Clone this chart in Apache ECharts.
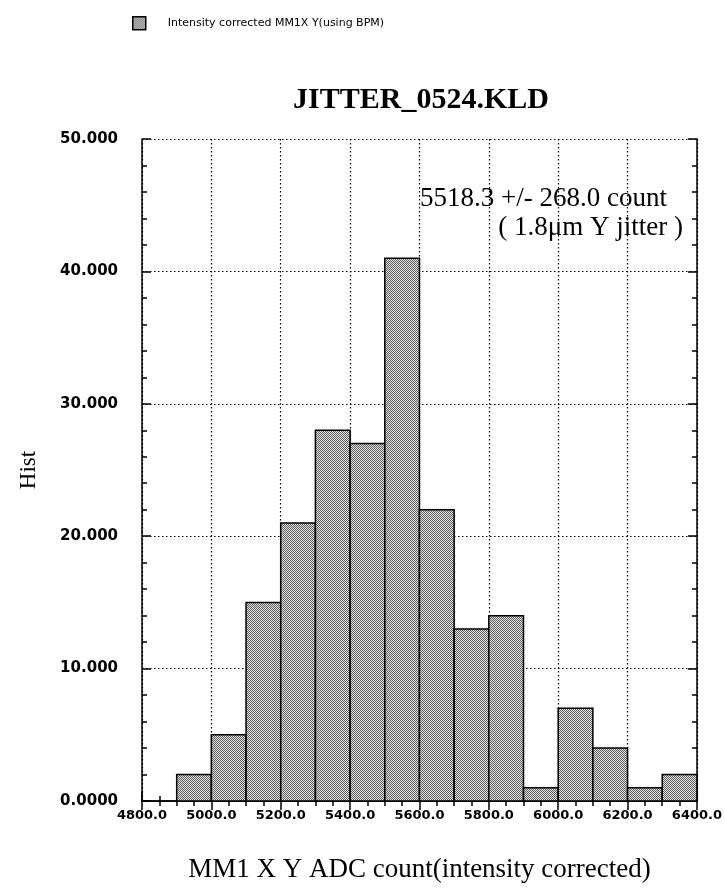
<!DOCTYPE html>
<html>
<head>
<meta charset="utf-8">
<script src="https://cdn.jsdelivr.net/npm/echarts@6/dist/echarts.min.js"></script>
<style>html,body{margin:0;padding:0;background:#fff;}#c{width:725px;height:895px;}</style>
</head>
<body>
<div id="c"></div>
<script>
// ---- data ----
const binStarts = [4900, 5000, 5100, 5200, 5300, 5400, 5500, 5600, 5700, 5800, 5900, 6000, 6100, 6200, 6300];
const binWidth = 100;
const counts = [2, 5, 15, 21, 28, 27, 41, 22, 13, 14, 1, 7, 4, 1, 2];
const xTicks = [4800, 5000, 5200, 5400, 5600, 5800, 6000, 6200, 6400];
const yTicks = [0, 10, 20, 30, 40, 50];
const seriesName = 'Intensity corrected MM1X Y(using BPM)';
const titleText = 'JITTER_0524.KLD';
const annotLines = ['5518.3 +/- 268.0 count', '( 1.8\u03bcm Y jitter )'];
const xName = 'MM1 X Y ADC count(intensity corrected)';
const yName = 'Hist';

// checkered fill pattern
const pc = document.createElement('canvas');
pc.width = 2; pc.height = 2;
const px = pc.getContext('2d');
px.fillStyle = '#e0e0e0'; px.fillRect(0, 0, 2, 2);
px.fillStyle = '#606060'; px.fillRect(0, 0, 1, 1); px.fillRect(1, 1, 1, 1);
const pattern = { image: pc, repeat: 'repeat' };

const histData = binStarts.map((s, i) => [s, s + binWidth, counts[i]]);

const chart = echarts.init(document.getElementById('c'), null, { renderer: 'canvas' });

const commonX = {
  type: 'value', min: xTicks[0], max: xTicks[xTicks.length - 1], interval: 200,
  axisLine: { show: true, lineStyle: { color: '#000', width: 1.5 } },
  axisTick: { show: true, inside: true, length: 9, lineStyle: { color: '#000', width: 1.5 } },
  minorTick: { show: true, splitNumber: 4, length: 5, lineStyle: { color: '#000', width: 1.5 } },
};
const commonY = {
  type: 'value', min: yTicks[0], max: yTicks[yTicks.length - 1], interval: 10,
  axisLine: { show: true, lineStyle: { color: '#000', width: 1.5 } },
  axisTick: { show: true, inside: true, length: 9, lineStyle: { color: '#000', width: 1.5 } },
  minorTick: { show: true, splitNumber: 5, length: 5, lineStyle: { color: '#000', width: 1.5 } },
};

chart.setOption({
  animation: false,
  backgroundColor: '#fff',
  title: {
    text: titleText, left: 416, top: 80, textAlign: 'center',
    textStyle: { fontFamily: 'Liberation Serif', fontWeight: 'bold', fontSize: 30, color: '#000' }
  },
  legend: {
    left: 127, top: 11, itemWidth: 13, itemHeight: 13, icon: 'rect',
    data: [{ name: seriesName, itemStyle: { color: pattern, borderColor: '#000', borderWidth: 1.5 } }],
    textStyle: { fontFamily: 'DejaVu Sans', fontSize: 11, color: '#000', padding: [0, 0, 0, 17] }
  },
  grid: { left: 142, right: 26, top: 139, bottom: 94 },
  xAxis: [
    Object.assign({}, commonX, {
      position: 'bottom',
      name: xName, nameLocation: 'middle', nameGap: 55,
      nameTextStyle: { fontFamily: 'Liberation Serif', fontSize: 27, color: '#000' },
      axisLabel: { margin: 8, color: '#000', fontFamily: 'DejaVu Sans', fontWeight: 'bold', fontSize: 13,
        formatter: v => v.toFixed(1) },
      splitLine: { show: true, lineStyle: { color: '#000', type: [1.5, 2.5], width: 1.2 } }
    }),
    Object.assign({}, commonX, {
      position: 'top', axisLabel: { show: false }, splitLine: { show: false }
    })
  ],
  yAxis: [
    Object.assign({}, commonY, {
      position: 'left',
      name: yName, nameLocation: 'middle', nameGap: 102,
      nameTextStyle: { fontFamily: 'Liberation Serif', fontSize: 23, color: '#000' },
      axisLabel: { margin: 24, color: '#000', fontFamily: 'DejaVu Sans', fontWeight: 'bold', fontSize: 15,
        formatter: v => v === 0 ? v.toFixed(4) : v.toFixed(3) },
      splitLine: { show: true, lineStyle: { color: '#000', type: [1.5, 2.5], width: 1.2 } }
    }),
    Object.assign({}, commonY, {
      position: 'right', axisLabel: { show: false }, splitLine: { show: false }
    })
  ],
  series: [{
    name: seriesName,
    type: 'custom',
    xAxisIndex: 0, yAxisIndex: 0,
    encode: { x: [0, 1], y: 2 },
    data: histData,
    renderItem: function (params, api) {
      const p0 = api.coord([api.value(0), api.value(2)]);
      const p1 = api.coord([api.value(1), 0]);
      return {
        type: 'rect',
        shape: { x: p0[0], y: p0[1], width: p1[0] - p0[0], height: p1[1] - p0[1] },
        style: { fill: pattern, stroke: '#000', lineWidth: 1.5 }
      };
    },
    itemStyle: { color: pattern, borderColor: '#000', borderWidth: 1.5 },
    z: 3
  }],
  graphic: [{
    type: 'text', right: 58, top: 185, z: 10,
    style: { text: annotLines[0], fontFamily: 'Liberation Serif', fontSize: 27, fill: '#000', textAlign: 'right' }
  }, {
    type: 'text', right: 42, top: 214, z: 10,
    style: { text: annotLines[1], fontFamily: 'Liberation Serif', fontSize: 27, fill: '#000', textAlign: 'right' }
  }]
});
</script>
</body>
</html>
